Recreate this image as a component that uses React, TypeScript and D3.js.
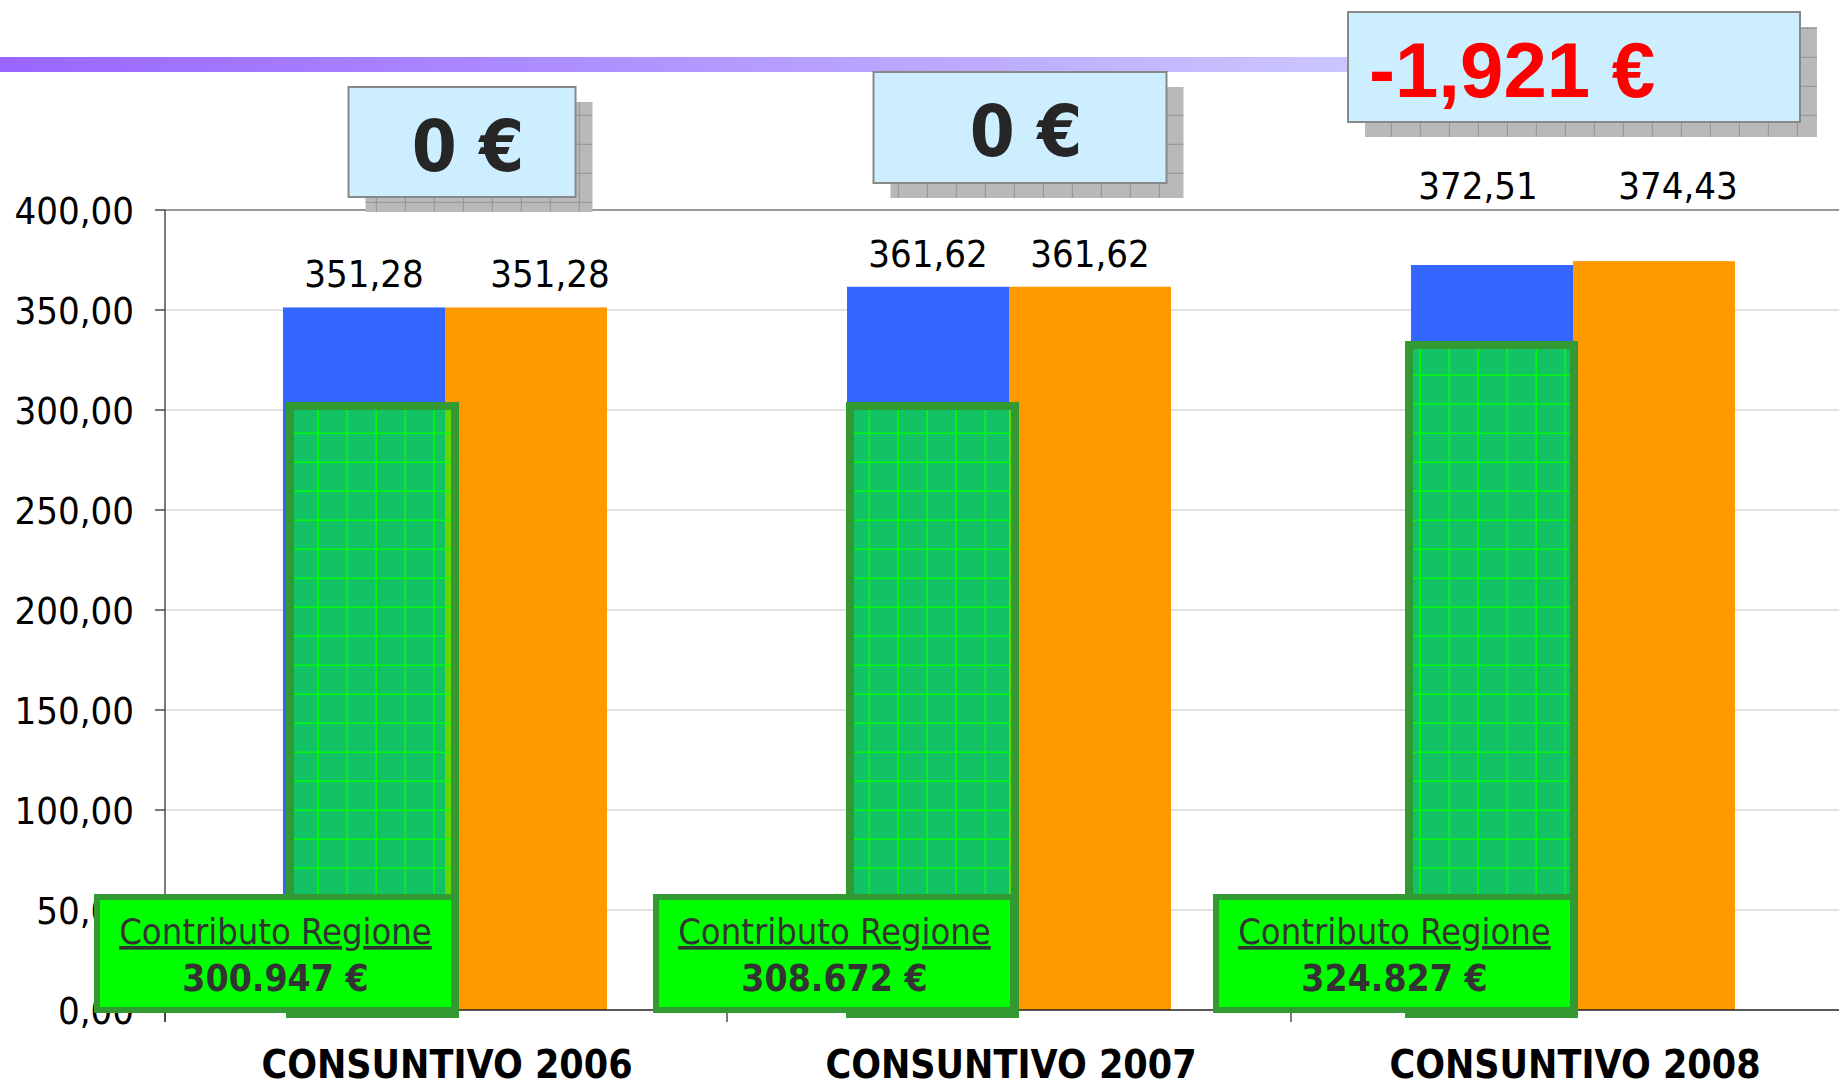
import React from 'react';
import * as d3 from 'd3';

// chart data
const categories = ['CONSUNTIVO 2006', 'CONSUNTIVO 2007', 'CONSUNTIVO 2008'];
const blueValues = [351.28, 361.62, 372.51];
const orangeValues = [351.28, 361.62, 374.43];
const regioneTop = [304, 304, 334.5];
const regioneLabels = ['300.947 €', '308.672 €', '324.827 €'];
const deltaLabels = ['0 €', '0 €', '-1,921 €'];
const yTicks = [0, 50, 100, 150, 200, 250, 300, 350, 400];

// manual nudges of the value labels (dx, dy), [blue, orange] per category
const labelNudge = [
  [[0, 0], [24, 0]],
  [[0, 0], [0, 0]],
  [[-14, -46], [24, -42]],
];
// hand placed shapes: overlay x shift and label box left offset from category centre
const overlayShift = [3, -1, -6];
const boxShift = [-351, -356, -360];

// the three delta boxes on top: offset of the centre from the category centre, size, top
const deltaBoxes = [
  { dx: 17, w: 227, h: 110, top: 87, red: false },
  { dx: 11, w: 293, h: 111, top: 72, red: false },
  { dx: 1, w: 452, h: 110, top: 12, red: true },
];

const W = 1839;
const H = 1084;
const sans = "'DejaVu Sans Condensed', 'DejaVu Sans', sans-serif";

const it = d3.formatLocale({ decimal: ',', thousands: '.', grouping: [3], currency: ['', '€'] });
const fmt = it.format('.2f');

export default function App() {
  const x0 = d3.scaleBand<string>()
    .domain(categories)
    .range([163, 1855])
    .paddingInner(0.4255)
    .paddingOuter(0.21275);
  const x1 = d3.scaleBand<string>()
    .domain(['blue', 'orange'])
    .range([0, x0.bandwidth()]);
  const y = d3.scaleLinear().domain([0, 400]).range([1010, 210]);

  const step = x0.step();
  const bw = x1.bandwidth();
  const catTicks = categories.map(c => x0(c)! - (step - x0.bandwidth()) / 2);

  return (
    <div style={{ position: 'absolute', left: 0, top: 0 }}>
      <svg width={W} height={H} style={{ display: 'block', fontFamily: sans }}>
        <defs>
          <linearGradient id="band" x1="0" x2="1" y1="0" y2="0">
            <stop offset="0" stopColor="#9966ff" />
            <stop offset="1" stopColor="#cbc6ff" />
          </linearGradient>
          <pattern id="greenGrid" width={29} height={29} patternUnits="userSpaceOnUse" x={0} y={405}>
            <path d="M0,28.2H29M28.2,0V29" stroke="#00ff00" strokeWidth={1.6} fill="none" opacity={0.9} />
          </pattern>
          <pattern id="shadowGrid" width={29} height={29} patternUnits="userSpaceOnUse">
            <rect width={29} height={29} fill="#b9b9b9" />
            <path d="M0,28.4H29M28.4,0V29" stroke="#999" strokeWidth={1.2} fill="none" />
          </pattern>
        </defs>

        {/* title band */}
        <rect x={0} y={57} width={1350} height={15} fill="url(#band)" />

        {/* grid */}
        {yTicks.filter(t => t > 0 && t < 400).map(t => (
          <line key={t} x1={165} x2={W} y1={y(t)} y2={y(t)} stroke="#d9d9d9" strokeWidth={1.5} />
        ))}
        <line x1={165} x2={W} y1={y(400)} y2={y(400)} stroke="#999" strokeWidth={2} />

        {/* y axis */}
        <line x1={165} x2={165} y1={y(400)} y2={1022} stroke="#222" strokeWidth={1.2} />
        {yTicks.map(t => (
          <g key={t}>
            <line x1={155} x2={165} y1={y(t)} y2={y(t)} stroke="#222" strokeWidth={1.2} />
            <text x={134} y={y(t)} dy="0.36em" textAnchor="end" fontSize={38} fill="#000">{fmt(t)}</text>
          </g>
        ))}

        {/* bars */}
        {categories.map((c, i) => (
          <g key={c} transform={`translate(${x0(c)},0)`}>
            <rect x={x1('blue')} y={y(blueValues[i])} width={bw} height={y(0) - y(blueValues[i])} fill="#3366ff" />
            <rect x={x1('orange')} y={y(orangeValues[i])} width={bw} height={y(0) - y(orangeValues[i])} fill="#ff9900" />
          </g>
        ))}

        {/* value labels */}
        {categories.map((c, i) => (
          <g key={c} fontSize={38} fill="#000" textAnchor="middle">
            <text x={x0(c)! + x1('blue')! + bw / 2 + labelNudge[i][0][0]} y={y(blueValues[i]) - 20 + labelNudge[i][0][1]}>
              {fmt(blueValues[i])}
            </text>
            <text x={x0(c)! + x1('orange')! + bw / 2 + labelNudge[i][1][0]} y={y(orangeValues[i]) - 20 + labelNudge[i][1][1]}>
              {fmt(orangeValues[i])}
            </text>
          </g>
        ))}

        {/* x axis */}
        <line x1={165} x2={W} y1={y(0)} y2={y(0)} stroke="#222" strokeWidth={1.5} />
        {catTicks.map((t, i) => (
          <line key={i} x1={Math.max(t, 165)} x2={Math.max(t, 165)} y1={y(0)} y2={1022} stroke="#222" strokeWidth={1.2} />
        ))}

        {/* contributo regione overlays */}
        {categories.map((c, i) => {
          const left = x0(c)! + overlayShift[i];
          const w = 173;
          const top = y(regioneTop[i]) + 4;
          const h = y(0) - y(regioneTop[i]);
          return (
            <g key={c}>
              <rect x={left + 4} y={top} width={w - 8} height={h} fill="#00ff00" opacity={0.6} />
              <rect x={left + 4} y={top} width={w - 8} height={h} fill="url(#greenGrid)" />
              <rect x={left + 4} y={top} width={w - 8} height={h} fill="none" stroke="#339933" strokeWidth={8} />
            </g>
          );
        })}

        {/* contributo regione label boxes */}
        {categories.map((c, i) => {
          const cx = x0(c)! + bw;
          const left = cx + boxShift[i];
          const right = left + 363;
          return (
            <g key={c}>
              <rect x={left + 3} y={897} width={right - left - 6} height={113} fill="#00ff00" stroke="#339933" strokeWidth={6} />
              <text x={(left + right) / 2} y={944} textAnchor="middle" fontSize={36} fill="#333" textDecoration="underline">
                Contributo Regione
              </text>
              <text x={(left + right) / 2} y={991} textAnchor="middle" fontSize={37} fontWeight="bold" fill="#333">
                {regioneLabels[i]}
              </text>
            </g>
          );
        })}

        {/* category labels */}
        {categories.map(c => (
          <text key={c} x={x0(c)! + bw + 2} y={1078} textAnchor="middle" fontSize={39} fontWeight="bold" fill="#000">{c}</text>
        ))}

        {/* delta boxes */}
        {categories.map((c, i) => {
          const b = deltaBoxes[i];
          const left = x0(c)! + bw + b.dx - b.w / 2;
          return (
            <g key={c}>
              <rect x={left + 17} y={b.top + 15} width={b.w} height={b.h} fill="url(#shadowGrid)" />
              <rect x={left} y={b.top} width={b.w} height={b.h} fill="#cceeff" stroke="#888" strokeWidth={2} />
              {b.red ? (
                <text x={left + 21} y={b.top + 85} fontSize={78} fontWeight="bold" fill="#ff0000"
                  fontFamily="'Liberation Sans', Arial, sans-serif">{deltaLabels[i]}</text>
              ) : (
                <text x={left + b.w / 2 + 6} y={b.top + 84} textAnchor="middle" fontSize={72} fontWeight="bold" fill="#262626">
                  {deltaLabels[i]}
                </text>
              )}
            </g>
          );
        })}
      </svg>
    </div>
  );
}
